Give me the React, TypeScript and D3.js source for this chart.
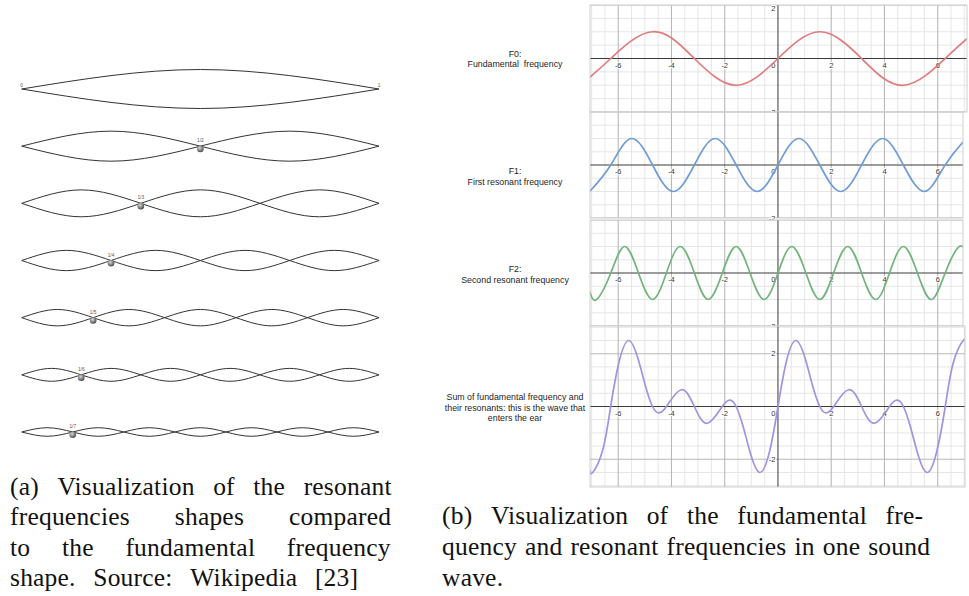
import React, { useEffect, useRef } from "react";
import * as d3 from "d3";

// (a) standing waves on a string
const MODES = [1, 2, 3, 4, 5, 6, 7];
const MODE_AMPLITUDE = [1, 0.77, 0.69, 0.52, 0.42, 0.33, 0.22];
const NODE_LABELS = ["", "1/2", "1/3", "1/4", "1/5", "1/6", "1/7"];
const STRING_END_LABELS = ["0", "1"];

// (b) wave panels
const PANEL_TITLES = [
  ["F0:", "Fundamental  frequency"],
  ["F1:", "First resonant frequency"],
  ["F2:", "Second resonant frequency"],
  ["Sum of fundamental frequency and", "their resonants: this is the wave that", "enters the ear"],
];

const F0_X = [-7.07, -6.28, -4.71, -3.14, -1.57, 0, 1.57, 3.14, 4.71, 6.28, 7.1];
const F0_Y = [-0.7, 0, 1, 0, -1, 0, 1, 0, -1, 0, 0.74];

const F1_X = [-7.07, -6.28, -5.5, -4.71, -3.93, -3.14, -2.36, -1.57, -0.785, 0, 0.785, 1.57, 2.36, 3.14, 3.93, 4.71, 5.5, 6.28, 7.07, 7.1];
const F1_Y = [-1, 0, 1, 0, -1, 0, 1, 0, -1, 0, 1, 0, -1, 0, 1, 0, -1, 0, 1, 1];

const F2_X = [-7.07, -6.81, -6.28, -5.76, -5.24, -4.71, -4.19, -3.67, -3.14, -2.62, -2.09, -1.57, -1.05, -0.52, 0, 0.52, 1.05, 1.57, 2.09, 2.62, 3.14, 3.67, 4.19, 4.71, 5.24, 5.76, 6.28, 6.81, 7.1];
const F2_Y = [-0.7, -1, 0, 1, 0, -1, 0, 1, 0, -1, 0, 1, 0, -1, 0, 1, 0, -1, 0, 1, 0, -1, 0, 1, 0, -1, 0, 1, 0.64];

const SUM_X = [-7.07, -6.96, -6.58, -6.283, -5.98, -5.6, -5.23, -4.98, -4.712, -4.48, -4.189, -3.63, -3.142, -2.65, -2.094, -1.8, -1.571, -1.3, -1.05, -0.68, -0.3,
  0, 0.3, 0.68, 1.05, 1.3, 1.571, 1.8, 2.094, 2.65, 3.142, 3.63, 4.189, 4.48, 4.712, 4.98, 5.23, 5.6, 5.98, 6.283, 6.58, 6.96, 7.1];
const SUM_Y = [-2.41, -2.5, -1.64, 0, 1.64, 2.5, 1.72, 0.79, 0, -0.24, 0, 0.635, 0, -0.635, 0, 0.24, 0, -0.79, -1.72, -2.5, -1.64,
  0, 1.64, 2.5, 1.72, 0.79, 0, -0.24, 0, 0.635, 0, -0.635, 0, 0.24, 0, -0.79, -1.72, -2.5, -1.64, 0, 1.64, 2.5, 2.47];

const X_TICKS = [-6, -4, -2, 0, 2, 4, 6];
const Y_TICKS = [-2, 2];

const CAPTION_A = [
  "(a) Visualization of the resonant",
  "frequencies shapes compared",
  "to the fundamental frequency",
  "shape. Source: Wikipedia [23]",
];
const CAPTION_B = [
  "(b) Visualization of the fundamental fre-",
  "quency and resonant frequencies in one sound",
  "wave.",
];

export default function App() {
  const svgRef = useRef<SVGSVGElement>(null);

  useEffect(() => {
    const svg = d3.select(svgRef.current);
    svg.selectAll("*").remove();

    const defs = svg.append("defs");
    const ball = defs.append("radialGradient").attr("id", "ball").attr("cx", "40%").attr("cy", "35%").attr("r", "65%");
    ball.append("stop").attr("offset", "0%").attr("stop-color", "#d8d8d8");
    ball.append("stop").attr("offset", "100%").attr("stop-color", "#4a4a4a");

    // ---------- (a) strings ----------
    const tx = d3.scaleLinear().domain([0, 1]).range([21.7, 379]);
    const rowY = d3.scalePoint<number>().domain(MODES).range([89, 432]);
    const amp = d3.scaleLinear().domain([0, 1]).range([0, 19.5]);

    const gA = svg.append("g");
    MODES.forEach((n, i) => {
      const cy = rowY(n)!;
      const a = amp(MODE_AMPLITUDE[i]);
      const pts = d3.range(2 * n + 1).map(k => [k / (2 * n), [0, 1, 0, -1][k % 4]]);
      [1, -1].forEach(sign => {
        const line = d3.line<number[]>()
          .x(d => tx(d[0]))
          .y(d => cy - sign * d[1] * a)
          .curve(d3.curveNatural);
        gA.append("path").attr("d", line(pts)).attr("fill", "none")
          .attr("stroke", "#333").attr("stroke-width", 1);
      });
      if (n > 1) {
        gA.append("circle").attr("cx", tx(1 / n)).attr("cy", cy + 2.8).attr("r", 3.3)
          .attr("fill", "url(#ball)");
        gA.append("text").attr("x", tx(1 / n)).attr("y", cy - 4)
          .attr("text-anchor", "middle").attr("font-family", "Liberation Sans")
          .attr("font-size", 4.8).attr("fill", "#555").text(NODE_LABELS[i]);
      } else {
        STRING_END_LABELS.forEach((lab, j) => {
          gA.append("text").attr("x", tx(j)).attr("y", cy - 2.5)
            .attr("text-anchor", "middle").attr("font-family", "Liberation Sans")
            .attr("font-size", 4.8).attr("fill", "#555").text(lab);
        });
      }
    });

    // ---------- (b) wave panels ----------
    const x = d3.scaleLinear().domain([-7.06, 7.1]).range([590, 967]);
    const panels = [
      { xs: F0_X, ys: F0_Y, color: "#e07b7b", top: 5, bottom: 112, yMax: 2, right: 967, yLabels: [-2, 2], titleY: [57.3, 67.3] },
      { xs: F1_X, ys: F1_Y, color: "#6f9dd3", top: 112, bottom: 218, yMax: 2, right: 963, yLabels: [-2], titleY: [173.5, 184.5] },
      { xs: F2_X, ys: F2_Y, color: "#72b47c", top: 220, bottom: 326, yMax: 2, right: 963, yLabels: [-2], titleY: [272, 282.5] },
      { xs: SUM_X, ys: SUM_Y, color: "#a193e0", top: 326, bottom: 487, yMax: 3.05, right: 965, yLabels: Y_TICKS, titleY: [400, 410.7, 421.2] },
    ];

    const tick = (sel: any) => sel.attr("font-family", "Liberation Sans").attr("font-size", 7.5)
      .attr("fill", "#333").attr("stroke", "#fff").attr("stroke-width", 2)
      .attr("paint-order", "stroke");

    panels.forEach((p, pi) => {
      const y = d3.scaleLinear().domain([-p.yMax, p.yMax]).range([p.bottom, p.top]);
      const left = 590;
      const clipId = `clip${pi}`;
      defs.append("clipPath").attr("id", clipId).append("rect")
        .attr("x", left).attr("y", p.top).attr("width", p.right - left).attr("height", p.bottom - p.top);
      const g = svg.append("g").attr("clip-path", `url(#${clipId})`);
      g.append("rect").attr("x", left).attr("y", p.top).attr("width", p.right - left)
        .attr("height", p.bottom - p.top).attr("fill", "#fff");

      // minor grid
      const minorX = d3.range(-7, 7.01, 0.5).filter(v => v % 2 !== 0);
      const minorY = d3.range(-3, 3.01, 0.5).filter(v => v % 2 !== 0);
      g.selectAll(".mx").data(minorX).join("line")
        .attr("x1", d => x(d)).attr("x2", d => x(d)).attr("y1", p.top).attr("y2", p.bottom)
        .attr("stroke", "#e3e3e3").attr("stroke-width", 0.9);
      g.selectAll(".my").data(minorY).join("line")
        .attr("x1", left).attr("x2", p.right).attr("y1", d => y(d)).attr("y2", d => y(d))
        .attr("stroke", "#e3e3e3").attr("stroke-width", 0.9);
      // major grid
      g.selectAll(".Mx").data(X_TICKS.filter(d => d !== 0)).join("line")
        .attr("x1", d => x(d)).attr("x2", d => x(d)).attr("y1", p.top).attr("y2", p.bottom)
        .attr("stroke", "#b9b9b9").attr("stroke-width", 1.1);
      g.selectAll(".My").data(Y_TICKS).join("line")
        .attr("x1", left).attr("x2", p.right).attr("y1", d => y(d)).attr("y2", d => y(d))
        .attr("stroke", "#b9b9b9").attr("stroke-width", 1.1);
      // axes
      g.append("line").attr("x1", left).attr("x2", p.right).attr("y1", y(0)).attr("y2", y(0))
        .attr("stroke", "#3a3a3a").attr("stroke-width", 1);
      g.append("line").attr("x1", x(0)).attr("x2", x(0)).attr("y1", p.top).attr("y2", p.bottom)
        .attr("stroke", "#3a3a3a").attr("stroke-width", 1);

      // x tick labels
      g.selectAll(".tx").data(X_TICKS).join("text")
        .attr("x", d => (d === 0 ? x(0) - 2.5 : x(d)))
        .attr("y", y(0) + 9)
        .attr("text-anchor", d => (d === 0 ? "end" : "middle"))
        .text(d => String(d))
        .call(tick);

      // curve
      const pts = p.xs.map((v, i) => [v, p.ys[i]]);
      const line = d3.line<number[]>().x(d => x(d[0])).y(d => y(d[1])).curve(d3.curveNatural);
      g.append("path").attr("d", line(pts)).attr("fill", "none")
        .attr("stroke", p.color).attr("stroke-width", 1.7);

      // border
      svg.append("rect").attr("x", left).attr("y", p.top).attr("width", p.right - left)
        .attr("height", p.bottom - p.top).attr("fill", "none").attr("stroke", "#cfcfcf").attr("stroke-width", 1);

      // y tick labels (drawn over borders)
      svg.append("g").selectAll("text").data(p.yLabels).join("text")
        .attr("x", x(0) - 2.5).attr("y", d => Math.max(y(d), p.top + 3)).attr("dy", "0.35em")
        .attr("text-anchor", "end").text(d => String(d))
        .call(tick);

      // title
      PANEL_TITLES[pi].forEach((t, k) => {
        svg.append("text").attr("x", 515).attr("y", p.titleY[k]).attr("text-anchor", "middle")
          .attr("font-family", "Liberation Sans").attr("font-size", 8.8).attr("fill", "#1e1e1e")
          .style("white-space", "pre").text(t);
      });
    });

    // ---------- captions ----------
    const fs = 25.5;
    const cap = svg.append("g").attr("font-family", "Liberation Serif").attr("font-size", fs).attr("fill", "#111");
    // fit letter spacing so the normally spaced caption lines span their measured widths
    const fitLs = (line: string, width: number, gapW: number) => {
      const words = line.split(" ");
      const probe = words.map(w => cap.append("text").text(w));
      const w = d3.sum(probe, t => (t.node() as SVGTextElement).getComputedTextLength());
      probe.forEach(t => t.remove());
      return (width - (words.length - 1) * gapW - w) / line.replace(/ /g, "").length;
    };
    const ls = Math.min(1.5, Math.max(0, Math.min(fitLs(CAPTION_A[0], 381.5, 9.5), fitLs(CAPTION_B[1], 488, 8))));
    cap.attr("letter-spacing", ls);

    const justify = (lines: string[], x0: number, ends: number[], baselines: number[]) => {
      lines.forEach((line, i) => {
        const words = line.split(" ");
        const texts = words.map(w => cap.append("text").attr("y", baselines[i]).text(w));
        const ws = texts.map(t => (t.node() as SVGTextElement).getComputedTextLength() - ls);
        const gap = words.length > 1 ? Math.max(4, (ends[i] - x0 - d3.sum(ws)) / (words.length - 1)) : 0;
        let cx = x0;
        texts.forEach((t, j) => { t.attr("x", cx); cx += ws[j] + gap; });
      });
    };
    justify(CAPTION_A, 10, [391.5, 391, 390.5, 358], [494.5, 525, 555.5, 586]);
    justify(CAPTION_B, 442, [923, 930, 492], [524, 554.5, 585.5]);
  }, []);

  return (
    <svg ref={svgRef} width={969} height={596}
      style={{ position: "absolute", left: 0, top: 0, background: "#fff" }} />
  );
}
